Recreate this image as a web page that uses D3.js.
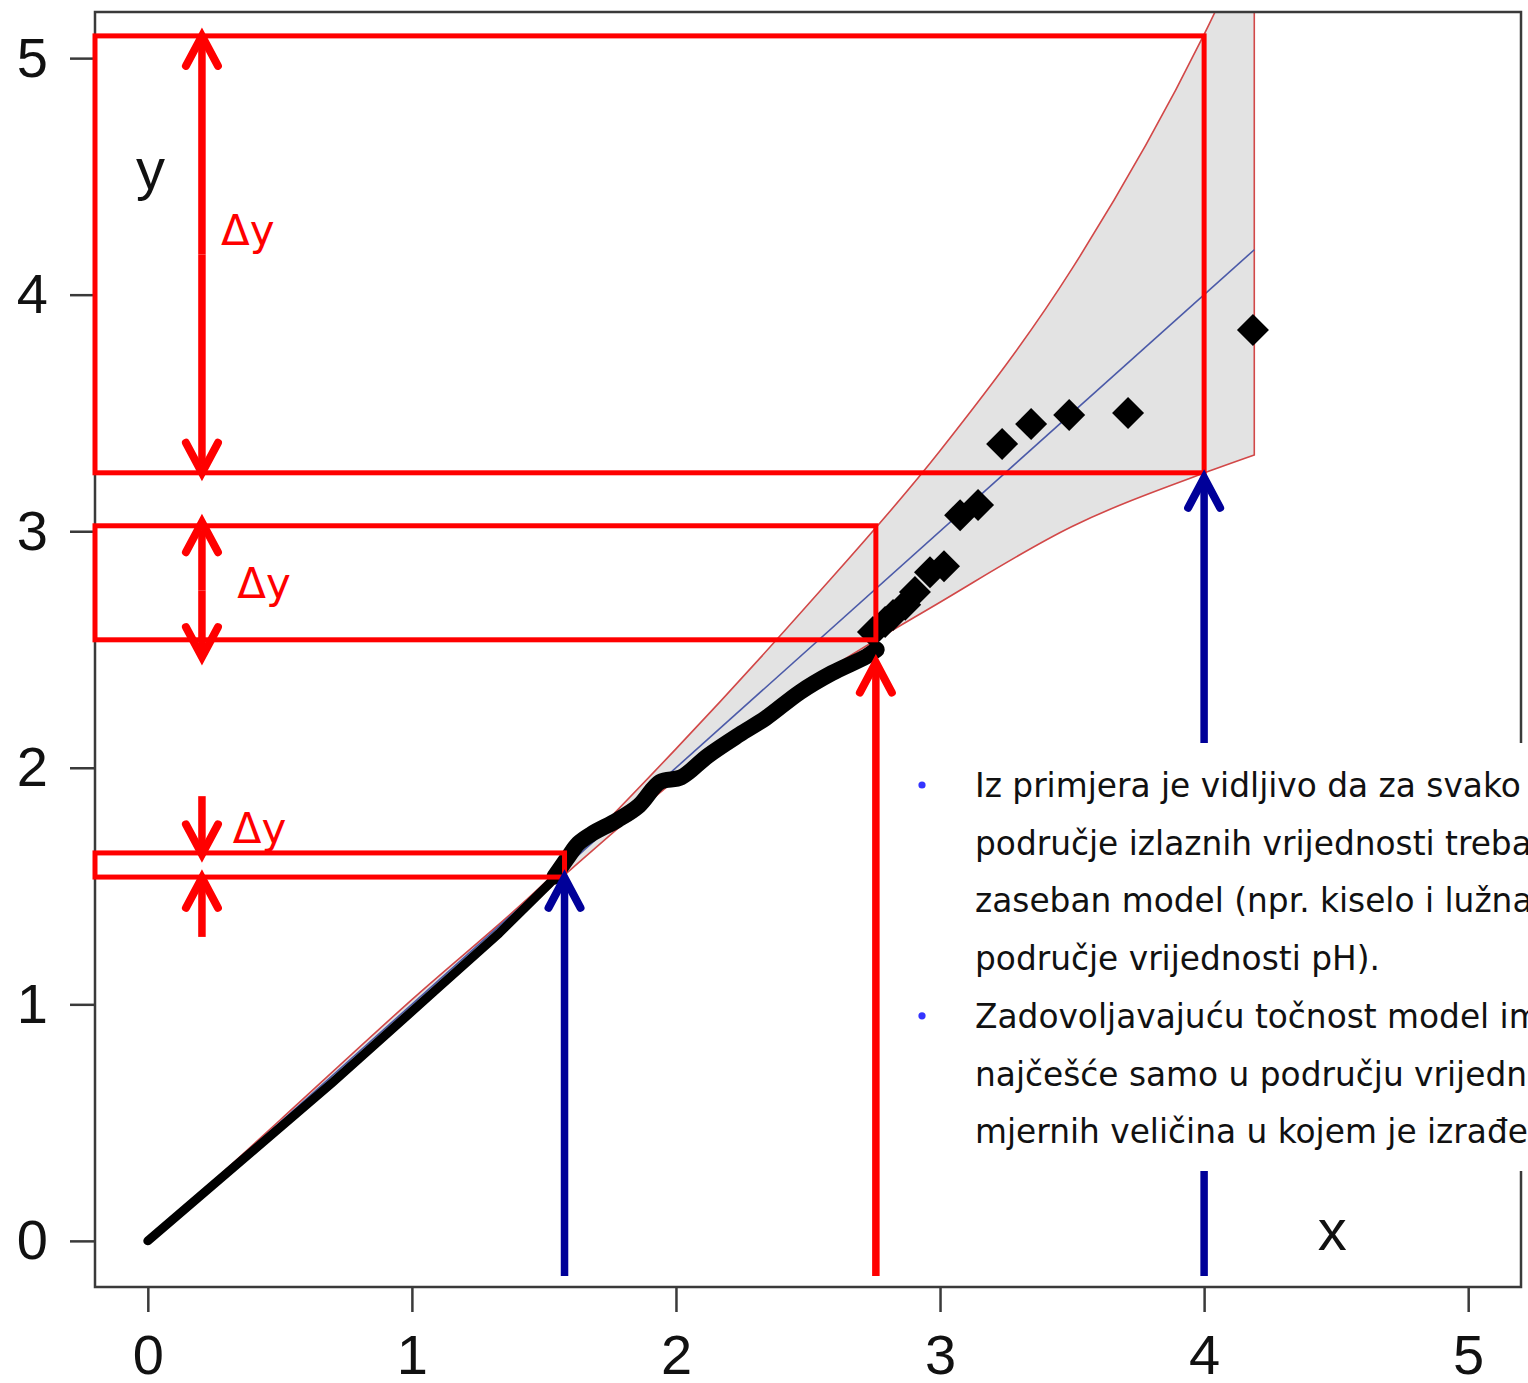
<!DOCTYPE html>
<html>
<head>
<meta charset="utf-8">
<script src="https://cdn.jsdelivr.net/npm/d3@7"></script>
<style>
  body { margin: 0; background: #fff; }
  svg { display: block; }
  svg text.arial { font-family: "Liberation Sans", Arimo, Roboto, Arial, Helvetica, sans-serif; }
  svg text.verdana { font-family: "DejaVu Sans", Verdana, sans-serif; }
</style>
</head>
<body>
<div id="chart"></div>
<script>
(function(d3) {
  'use strict';

  // dense part of the sample quantiles (drawn as a thick line)
  var tailX = [0, 0.70, 1.08, 1.33, 1.52, 1.59];
  var tailY = [0, 0.67, 1.05, 1.30, 1.51, 1.60];
  var bulkX = [1.54, 1.59, 1.63, 1.68, 1.78, 1.86, 1.94, 2.02, 2.12, 2.24, 2.34, 2.47, 2.59, 2.72, 2.76];
  var bulkY = [1.54, 1.62, 1.68, 1.72, 1.78, 1.84, 1.94, 1.96, 2.05, 2.14, 2.21, 2.32, 2.40, 2.47, 2.50];

  // sparse upper quantiles (diamonds)
  var pointX = [2.746, 2.792, 2.822, 2.868, 2.905, 2.962, 3.015, 3.076, 3.144, 3.235, 3.345, 3.489, 3.712, 4.185];
  var pointY = [2.574, 2.616, 2.646, 2.689, 2.743, 2.827, 2.852, 3.068, 3.111, 3.369, 3.453, 3.491, 3.500, 3.851];

  // confidence envelope
  var bandX = [0, 0.5, 1, 1.5, 2, 2.5, 3, 3.5, 4, 4.19];
  var bandUpper = [0, 0.51, 1.02, 1.51, 2.08, 2.69, 3.34, 4.11, 5.10, 5.55];
  var bandLower = [0, 0.49, 0.98, 1.47, 1.95, 2.36, 2.70, 3.02, 3.246, 3.322];

  // reference line y = x
  var refX = [0, 4.19];
  var refY = [0, 4.19];

  var tickValues = [0, 1, 2, 3, 4, 5];

  // annotation boxes: right edge, bottom, top (data units)
  var boxRight = [4.0, 2.757, 1.578];
  var boxBottom = [3.247, 2.541, 1.538];
  var boxTop = [5.094, 3.023, 1.640];

  var noteLines = [
    'Iz primjera je vidljivo da za svako',
    'područje izlaznih vrijednosti treba',
    'zaseban model (npr. kiselo i lužnato',
    'područje vrijednosti pH).',
    'Zadovoljavajuću točnost model ima',
    'najčešće samo u području vrijednosti',
    'mjernih veličina u kojem je izrađen.'
  ];
  var bulletRows = [0, 4];

  var width = 1528;
  var height = 1383;
  var margin = { top: 12, right: 7, bottom: 96, left: 95 };
  var red = '#ff0000';
  var navy = '#000099';

  var x = d3.scaleLinear().domain([-0.2, 5.2])
    .range([margin.left, width - margin.right]);
  var y = d3.scaleLinear().domain([-0.195, 5.195])
    .range([height - margin.bottom, margin.top]);

  var svg = d3.select('#chart')
    .append('svg')
    .attr('width', width)
    .attr('height', height);

  svg.append('clipPath')
    .attr('id', 'plotClip')
    .append('rect')
    .attr('x', margin.left)
    .attr('y', margin.top)
    .attr('width', width - margin.left - margin.right)
    .attr('height', height - margin.top - margin.bottom);

  var plot = svg.append('g').attr('clip-path', 'url(#plotClip)');

  // envelope
  var band = bandX.map(function(d, i) { return { x: d, lo: bandLower[i], hi: bandUpper[i] }; });
  var area = d3.area()
    .x(function(d) { return x(d.x); })
    .y0(function(d) { return y(d.lo); })
    .y1(function(d) { return y(d.hi); })
    .curve(d3.curveMonotoneX);

  plot.append('path')
    .datum(band)
    .attr('d', area)
    .attr('fill', '#e3e3e3')
    .attr('stroke', '#d24848')
    .attr('stroke-width', 1.6);

  var line = d3.line()
    .x(function(d) { return x(d[0]); })
    .y(function(d) { return y(d[1]); });

  plot.append('path')
    .datum(d3.zip(refX, refY))
    .attr('d', line)
    .attr('fill', 'none')
    .attr('stroke', '#4b5aa8')
    .attr('stroke-width', 1.6);

  plot.append('path')
    .datum(d3.zip(tailX, tailY))
    .attr('d', line)
    .attr('fill', 'none')
    .attr('stroke', '#000')
    .attr('stroke-width', 9)
    .attr('stroke-linejoin', 'round')
    .attr('stroke-linecap', 'round');

  plot.append('path')
    .datum(d3.zip(bulkX, bulkY))
    .attr('d', line.curve(d3.curveCatmullRom))
    .attr('fill', 'none')
    .attr('stroke', '#000')
    .attr('stroke-width', 16)
    .attr('stroke-linejoin', 'round')
    .attr('stroke-linecap', 'round');
  line.curve(d3.curveLinear);

  var diamond = d3.symbol().type(d3.symbolSquare).size(512);
  plot.selectAll('.pt')
    .data(d3.zip(pointX, pointY))
    .enter()
    .append('path')
    .attr('class', 'pt')
    .attr('d', diamond)
    .attr('transform', function(d) {
      return 'translate(' + x(d[0]) + ',' + y(d[1]) + ') rotate(45)';
    })
    .attr('fill', '#000');

  // frame
  svg.append('rect')
    .attr('x', margin.left)
    .attr('y', margin.top)
    .attr('width', width - margin.left - margin.right)
    .attr('height', height - margin.top - margin.bottom)
    .attr('fill', 'none')
    .attr('stroke', '#3a3a3a')
    .attr('stroke-width', 2.5);

  // axes
  var yAxis = svg.append('g')
    .attr('transform', 'translate(' + margin.left + ',0)')
    .call(d3.axisLeft(y).tickValues(tickValues).tickSize(25).tickPadding(22).tickFormat(d3.format('d')));
  var xAxis = svg.append('g')
    .attr('transform', 'translate(0,' + (height - margin.bottom) + ')')
    .call(d3.axisBottom(x).tickValues(tickValues).tickSize(25).tickPadding(22).tickFormat(d3.format('d')));

  [xAxis, yAxis].forEach(function(ax) {
    ax.attr('font-family', null).attr('font-size', null);
    ax.select('.domain').remove();
    ax.selectAll('line').attr('stroke', '#3a3a3a').attr('stroke-width', 2.5);
    ax.selectAll('text')
      .attr('class', 'arial')
      .attr('fill', '#111')
      .style('font-size', '56px');
  });

  // red boxes
  boxRight.forEach(function(r, i) {
    svg.append('rect')
      .attr('x', margin.left)
      .attr('y', y(boxTop[i]))
      .attr('width', x(r) - margin.left)
      .attr('height', y(boxBottom[i]) - y(boxTop[i]))
      .attr('fill', 'none')
      .attr('stroke', red)
      .attr('stroke-width', 5);
  });

  // arrows: shaft from (x, from) to tip at (x, to)
  function arrow(xv, from, to, color) {
    var px = x(xv);
    var p0 = y(from);
    var tip = y(to);
    var dir = tip < p0 ? 1 : -1;
    svg.append('line')
      .attr('x1', px).attr('x2', px)
      .attr('y1', p0).attr('y2', tip + dir * 8)
      .attr('stroke', color)
      .attr('stroke-width', 7.5);
    svg.append('path')
      .attr('d', 'M' + (px - 16) + ',' + (tip + dir * 30) + 'L' + px + ',' + tip + 'L' + (px + 16) + ',' + (tip + dir * 30))
      .attr('fill', 'none')
      .attr('stroke', color)
      .attr('stroke-width', 8)
      .attr('stroke-linecap', 'round')
      .attr('stroke-linejoin', 'miter');
  }

  var dyX = 0.205;
  arrow(dyX, 4.17, 5.094, red);
  arrow(dyX, 4.17, 3.247, red);
  arrow(dyX, 2.75, 3.038, red);
  arrow(dyX, 2.75, 2.468, red);
  arrow(dyX, 1.880, 1.634, red);
  arrow(dyX, 1.285, 1.535, red);
  arrow(2.757, -0.148, 2.445, red);
  arrow(1.578, -0.148, 1.535, navy);
  arrow(4.0, -0.148, 3.226, navy);

  var dyLabels = [[0.277, 4.210], [0.339, 2.717], [0.322, 1.682]];
  svg.selectAll('.dy')
    .data(dyLabels)
    .enter()
    .append('text')
    .attr('class', 'dy verdana')
    .attr('x', function(d) { return x(d[0]); })
    .attr('y', function(d) { return y(d[1]); })
    .attr('fill', red)
    .style('font-size', '42px')
    .text('Δy');

  svg.append('text')
    .attr('class', 'arial')
    .attr('x', x(-0.045))
    .attr('y', y(4.447))
    .attr('fill', '#111')
    .style('font-size', '58px')
    .text('y');

  svg.append('text')
    .attr('class', 'arial')
    .attr('x', x(4.43))
    .attr('y', y(-0.038))
    .attr('fill', '#111')
    .style('font-size', '58px')
    .text('x');

  // text box over the lower right
  var note = svg.append('g');
  note.append('rect')
    .attr('x', 900)
    .attr('y', 743)
    .attr('width', width - 900)
    .attr('height', 428)
    .attr('fill', '#fff');

  note.selectAll('text')
    .data(noteLines)
    .enter()
    .append('text')
    .attr('class', 'verdana')
    .attr('x', 975)
    .attr('y', function(d, i) { return 797 + i * 57.7; })
    .attr('fill', '#111')
    .style('font-size', '32.8px')
    .text(function(d) { return d; });

  note.selectAll('circle')
    .data(bulletRows)
    .enter()
    .append('circle')
    .attr('cx', 922)
    .attr('cy', function(d) { return 785 + d * 57.7; })
    .attr('r', 3.6)
    .attr('fill', '#3434ff');

})(window.d3);
</script>
</body>
</html>
